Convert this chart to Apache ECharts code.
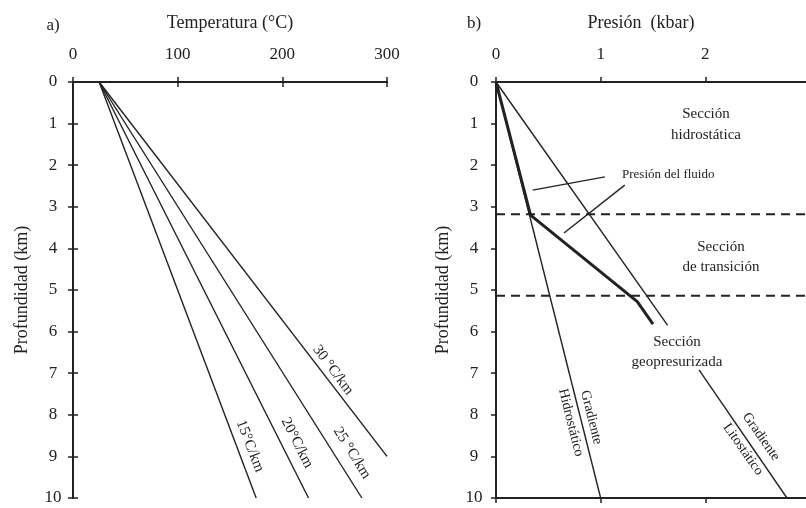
<!DOCTYPE html>
<html>
<head>
<meta charset="utf-8">
<script src="https://cdn.jsdelivr.net/npm/echarts@6/dist/echarts.min.js"></script>
<style>
  html, body { margin: 0; background: #fff; }
  #chart { width: 806px; height: 508px; }
</style>
</head>
<body>
<div id="chart"></div>
<script>
// a) temperatura vs profundidad
const tempTicks = [0, 100, 200, 300];
const depthTicks = [0, 1, 2, 3, 4, 5, 6, 7, 8, 9, 10];
const grad15 = [[25, 0], [175, 10]];
const grad20 = [[25, 0], [225, 10]];
const grad25 = [[25, 0], [276, 10]];
const grad30 = [[25, 0], [300, 9.0]];

// b) presión vs profundidad
const pressTicks = [0, 1, 2, 3];
const hydro = [[0, 0], [1.0, 10]];
const lithoUpper = [[0, 0], [1.64, 5.85]];
const lithoLower = [[1.94, 6.92], [2.78, 10]];
const fluid = [[0, 0], [0.33, 3.2], [1.35, 5.28], [1.5, 5.82]];
const limitTop = [[0, 3.18], [3, 3.18]];
const limitBottom = [[0, 5.14], [3, 5.14]];
const leader1 = [[0.35, 2.6], [1.04, 2.28]];
const leader2 = [[0.65, 3.63], [1.23, 2.48]];

const serif = '"Liberation Serif", "Times New Roman", serif';
const ink = '#222';

const chart = echarts.init(document.getElementById('chart'));

const axisLine = { show: true, lineStyle: { color: ink, width: 2 } };
const axisTick = { show: true, length: 5, lineStyle: { color: ink, width: 1.5 } };
const tickLabel = { color: ink, fontFamily: serif, fontSize: 17 };

// eje x (arriba con etiquetas, abajo solo marcas)
const xTop = (grid, ticks, name, pad) => ({
  type: 'value', gridIndex: grid, position: 'top',
  min: ticks[0], max: ticks[ticks.length - 1], interval: ticks[1] - ticks[0],
  name: name, nameLocation: 'middle', nameGap: 50,
  nameTextStyle: { color: ink, fontFamily: serif, fontSize: 18, padding: pad },
  axisLine: axisLine, axisTick: axisTick,
  axisLabel: Object.assign({ margin: 19 }, tickLabel),
  splitLine: { show: false }
});
const xBottom = (grid, ticks) => ({
  type: 'value', gridIndex: grid, position: 'bottom',
  min: ticks[0], max: ticks[ticks.length - 1], interval: ticks[1] - ticks[0],
  axisLine: axisLine, axisTick: axisTick,
  axisLabel: { show: false }, splitLine: { show: false }
});
const yLeft = (grid, gap, margin) => ({
  type: 'value', gridIndex: grid, position: 'left', inverse: true,
  min: depthTicks[0], max: depthTicks[depthTicks.length - 1], interval: 1,
  name: 'Profundidad (km)', nameLocation: 'middle', nameGap: gap, nameRotate: 90,
  nameTextStyle: { color: ink, fontFamily: serif, fontSize: 18 },
  axisLine: axisLine, axisTick: axisTick,
  axisLabel: Object.assign({ margin: margin, align: 'center' }, tickLabel),
  splitLine: { show: false }
});

const line = (x, y, data, width, type) => ({
  type: 'line', xAxisIndex: x, yAxisIndex: y, data: data,
  showSymbol: false, symbol: 'none', silent: true, animation: false,
  lineStyle: { color: ink, width: width || 1.4, type: type || 'solid' }
});

const txt = (text, x, y, size, deg, extra) => ({
  type: 'text', x: x, y: y, rotation: (deg || 0) * Math.PI / 180, silent: true,
  style: Object.assign({
    text: text, fill: ink, fontFamily: serif, fontSize: size,
    align: 'center', verticalAlign: 'middle'
  }, extra || {})
});

chart.setOption({
  backgroundColor: '#fff',
  animation: false,
  grid: [
    { left: 73, top: 82, width: 314, height: 416, outerBoundsMode: 'none', containLabel: false },
    { left: 496, top: 82, width: 314, height: 416, outerBoundsMode: 'none', containLabel: false }
  ],
  xAxis: [
    xTop(0, tempTicks, 'Temperatura (°C)', [0, 0, 0, 0]),
    xBottom(0, tempTicks),
    xTop(1, pressTicks, 'Presión  (kbar)', [0, 24, 0, 0]),
    xBottom(1, pressTicks)
  ],
  yAxis: [
    yLeft(0, 42, 20),
    {
      type: 'value', gridIndex: 0, position: 'right', inverse: true,
      min: depthTicks[0], max: depthTicks[depthTicks.length - 1], interval: 1,
      axisLine: axisLine, axisTick: axisTick,
      axisLabel: { show: false }, splitLine: { show: false }
    },
    yLeft(1, 44, 22)
  ],
  series: [
    line(0, 0, grad15),
    line(0, 0, grad20),
    line(0, 0, grad25),
    line(0, 0, grad30),
    line(2, 2, hydro),
    line(2, 2, lithoUpper),
    line(2, 2, lithoLower),
    line(2, 2, fluid, 3),
    line(2, 2, limitTop, 2, [9, 6]),
    line(2, 2, limitBottom, 2, [9, 6]),
    line(2, 2, leader1, 1.4),
    line(2, 2, leader2, 1.4)
  ],
  graphic: [
    txt('a)', 53, 26, 17),
    txt('b)', 474, 24, 17),
    txt('15°C/km', 250, 446, 15, -69),
    txt('20°C/km', 297, 443, 15, -63),
    txt('25 °C/km', 352, 453, 15, -58),
    txt('30 °C/km', 333, 370, 15, -53),
    txt('Sección\nhidrostática', 706, 125, 15, 0, { lineHeight: 21 }),
    txt('Presión del fluido', 622, 175, 13, 0, { align: 'left' }),
    txt('Sección\nde transición', 721, 257, 15, 0, { lineHeight: 20 }),
    txt('Sección\ngeopresurizada', 677, 352, 15, 0, { lineHeight: 20 }),
    txt('Gradiente\nHidrostático', 581, 420, 14, -76, { lineHeight: 21 }),
    txt('Gradiente\nLitostático', 752, 443, 14, -55, { lineHeight: 22 })
  ]
});
</script>
</body>
</html>
